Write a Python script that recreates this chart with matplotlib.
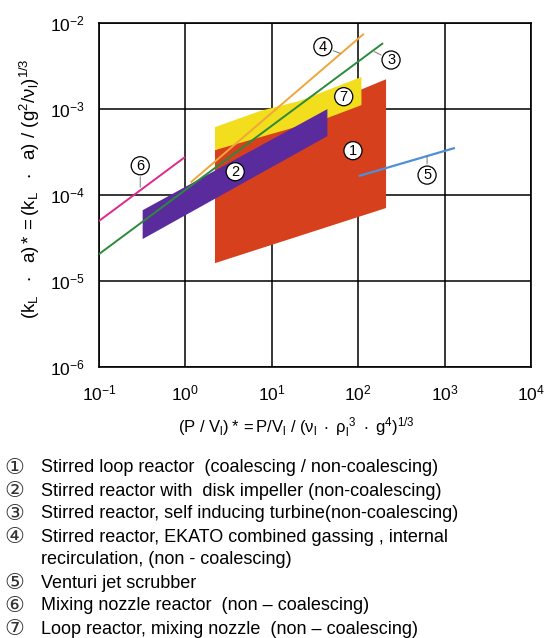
import matplotlib
matplotlib.use("Agg")
import matplotlib.pyplot as plt

plt.rcParams['font.family'] = ['Liberation Sans', 'DejaVu Sans']
plt.rcParams['mathtext.fontset'] = 'custom'
plt.rcParams['mathtext.rm'] = 'Liberation Sans'
plt.rcParams['mathtext.it'] = 'Liberation Sans'
plt.rcParams['mathtext.default'] = 'regular'

# regions (polygons in data coords)
red_x = [2.2, 210, 210, 2.2]
red_y = [3.3e-4, 2.2e-3, 7.0e-5, 1.6e-5]
yellow_x = [2.2, 7.3, 21, 109, 109, 44, 2.2]
yellow_y = [6.1e-4, 9.4e-4, 1.23e-3, 2.34e-3, 1.1e-3, 7.8e-4, 3.3e-4]
purple_x = [0.32, 44, 44, 0.32]
purple_y = [6.6e-5, 9.9e-4, 4.8e-4, 3.05e-5]

# correlation lines
line3_x = [0.1, 190]
line3_y = [2.04e-5, 5.7e-3]
line4_x = [1.17, 114]
line4_y = [1.41e-4, 7.3e-3]
line5_x = [104, 1280]
line5_y = [1.66e-4, 3.47e-4]
line6_x = [0.1, 0.97]
line6_y = [4.95e-5, 2.7e-4]

legend_items = [
    "Stirred loop reactor  (coalescing / non-coalescing)",
    "Stirred reactor with  disk impeller (non-coalescing)",
    "Stirred reactor, self inducing turbine(non-coalescing)",
    "Stirred reactor, EKATO combined gassing , internal\nrecirculation, (non - coalescing)",
    "Venturi jet scrubber",
    "Mixing nozzle reactor  (non \u2013 coalescing)",
    "Loop reactor, mixing nozzle  (non \u2013 coalescing)",
]
circled = ["\u2460", "\u2461", "\u2462", "\u2463", "\u2464", "\u2465", "\u2466"]

W, H = 547, 638
fig = plt.figure(figsize=(W / 100, H / 100), dpi=100)
ax = fig.add_axes([99 / W, 1 - 366.7 / H, 432 / W, 344 / H])
ax.set_xscale('log')
ax.set_yscale('log')
ax.set_xlim(1e-1, 1e4)
ax.set_ylim(1e-6, 1e-2)

ax.fill(red_x, red_y, color='#d6401c', lw=0, zorder=2)
ax.fill(yellow_x, yellow_y, color='#f2de1c', lw=0, zorder=3)
ax.fill(purple_x, purple_y, color='#5a2b9c', lw=0, zorder=4)

ax.plot(line6_x, line6_y, color='#e0288a', lw=1.4, zorder=5)
ax.plot(line3_x, line3_y, color='#2b8a3c', lw=1.4, zorder=5)
ax.plot(line4_x, line4_y, color='#f0a63a', lw=1.4, zorder=5)
ax.plot(line5_x, line5_y, color='#4f8fd6', lw=1.6, zorder=5)

# circled markers: (label, label pos, leader end or None)
markers = [
    ("1", (87, 3.25e-4), None),
    ("2", (3.77, 1.85e-4), None),
    ("3", (240, 3.68e-3), (154, 4.6e-3)),
    ("4", (39, 5.26e-3), (62, 4.4e-3)),
    ("5", (627, 1.69e-4), (627, 2.83e-4)),
    ("6", (0.30, 2.17e-4), (0.30, 1.22e-4)),
    ("7", (68, 1.38e-3), None),
]
for lab, pos, end in markers:
    if end is not None:
        ax.annotate("", xy=end, xytext=pos,
                    arrowprops=dict(arrowstyle='-', color='#777777', lw=0.7,
                                    shrinkA=8, shrinkB=0), zorder=6)
    ax.text(pos[0], pos[1], lab, ha='center', va='center', fontsize=10.5,
            zorder=7, bbox=dict(boxstyle='circle,pad=0.14', fc='white',
                                ec='black', lw=0.9))

ax.grid(True, which='major', color='black', lw=1.1, zorder=1)
ax.minorticks_off()
ax.set_axisbelow(True)
for s in ax.spines.values():
    s.set_linewidth(1.2)
ax.tick_params(length=0, labelsize=12.5)
ax.tick_params(axis='y', pad=10)
ax.tick_params(axis='x', pad=12)

fig.text(296 / W, 1 - 428 / H,
         r"$(P\ /\ V_l)* = P/V_l\ /\ (\nu_l\ \cdot\ \rho_l^{\ 3}\ \cdot\ g^4)^{1/3}$",
         ha='center', va='center', fontsize=12)
fig.text(30 / W, 1 - 189 / H,
         r"$(k_L\ \ \cdot\ \ a)* = (k_L\ \ \cdot\ \ a)\ /\ (g^2/\nu_l)^{1/3}$",
         ha='center', va='center', rotation=90, fontsize=13.5)

y = 468
for c, t in zip(circled, legend_items):
    fig.text(4 / W, 1 - y / H, c, ha='left', va='center', fontsize=16,
             family=['DejaVu Sans'], color='#333333')
    for k, part in enumerate(t.split("\n")):
        fig.text(40.7 / W, 1 - (y + 23 * k) / H, part, ha='left', va='center',
                 fontsize=13)
    y += 23 * (t.count("\n") + 1)

fig.savefig("out.png", dpi=100)
